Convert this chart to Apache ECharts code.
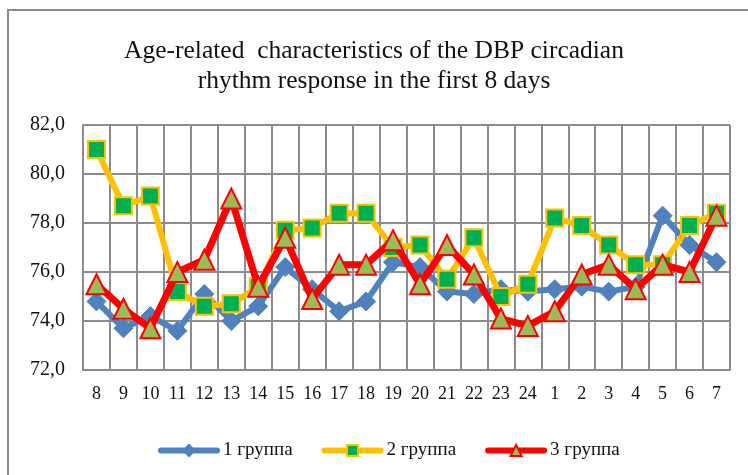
<!DOCTYPE html>
<html><head><meta charset="utf-8">
<script src="https://cdn.jsdelivr.net/npm/echarts@6/dist/echarts.min.js"></script>
<style>html,body{margin:0;padding:0;background:#fff}#c{width:748px;height:475px}</style>
</head><body><div id="c"></div>
<script>
const categories = ['8','9','10','11','12','13','14','15','16','17','18','19','20','21','22','23','24','1','2','3','4','5','6','7'];
const group1 = [74.8,73.7,74.2,73.6,75.1,74.0,74.6,76.2,75.3,74.4,74.8,76.4,76.2,75.2,75.1,75.3,75.2,75.3,75.4,75.2,75.4,78.3,77.1,76.4];
const group2 = [81.0,78.7,79.1,75.2,74.6,74.7,75.4,77.7,77.8,78.4,78.4,77.0,77.1,75.7,77.4,75.0,75.5,78.2,77.9,77.1,76.3,76.3,77.9,78.4];
const group3 = [75.5,74.5,73.7,76.0,76.5,79.0,75.4,77.4,74.9,76.3,76.3,77.3,75.5,77.1,75.9,74.1,73.8,74.4,75.9,76.3,75.3,76.3,76.0,78.3];
const seriesNames = ['1 группа','2 группа','3 группа'];
const yMin = 72, yMax = 82, yStep = 2;

const chart = echarts.init(document.getElementById('c'), null, {renderer:'canvas'});
const serif = '"Liberation Serif","Times New Roman",serif';
chart.setOption({
  animation:false,
  backgroundColor:'#fff',
  graphic:[{type:'rect', shape:{x:8,y:10,width:760,height:500}, style:{fill:'none', stroke:'#8c8c8c', lineWidth:2}, silent:true}],
  title:{
    text:'Age-related  characteristics of the DBP circadian\nrhythm response in the first 8 days',
    left:'center', top:31,
    textStyle:{fontFamily:serif, fontSize:25.5, fontWeight:'normal', color:'#111', lineHeight:30}
  },
  legend:{
    top:436, left:153, itemWidth:56, itemHeight:14, itemGap:29,
    textStyle:{fontFamily:serif, fontSize:19, color:'#111', padding:[0,0,0,1]},
    lineStyle:{width:6, cap:'round'},
    data:seriesNames
  },
  grid:{left:83, right:18, top:125, bottom:105, containLabel:false},
  xAxis:{
    type:'category', data:categories, boundaryGap:true,
    axisLine:{lineStyle:{color:'#8c8c8c', width:2}},
    axisTick:{show:false},
    axisLabel:{fontFamily:serif, fontSize:18, color:'#111', margin:15, interval:0},
    splitLine:{show:true, interval:0, lineStyle:{color:'#8c8c8c', width:2}}
  },
  yAxis:{
    type:'value', min:yMin, max:yMax, interval:yStep,
    axisLine:{show:true, lineStyle:{color:'#8c8c8c', width:2}},
    axisTick:{show:false},
    axisLabel:{fontFamily:serif, fontSize:20, color:'#111', margin:18, formatter:v=>v.toFixed(1).replace('.',',')},
    splitLine:{show:true, lineStyle:{color:'#8c8c8c', width:2}}
  },
  series:[
    {name:seriesNames[0], type:'line', data:group1, symbol:'diamond', symbolSize:19,
     lineStyle:{color:'#4F81BD', width:6}, itemStyle:{color:'#4F81BD', borderColor:'#4F81BD', borderWidth:1}, z:2},
    {name:seriesNames[1], type:'line', data:group2, symbol:'rect', symbolSize:17,
     lineStyle:{color:'#FFC000', width:6}, itemStyle:{color:'#00B050', borderColor:'#FFC000', borderWidth:2}, z:3},
    {name:seriesNames[2], type:'line', data:group3, symbol:'triangle', symbolSize:20,
     lineStyle:{color:'#FF0000', width:7}, itemStyle:{color:'#9BBB59', borderColor:'#FF0000', borderWidth:2}, z:4}
  ]
});
</script></body></html>
